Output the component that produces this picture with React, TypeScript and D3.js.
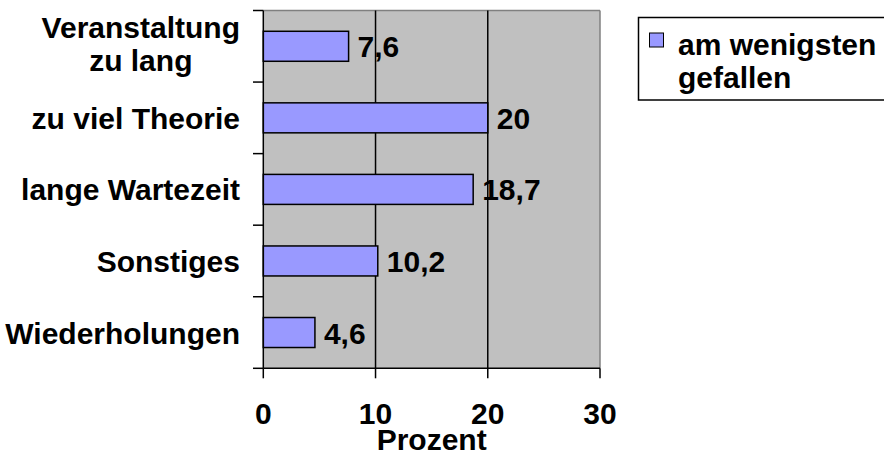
import React from "react";
import * as d3 from "d3";

const categories: string[][] = [
  ["Veranstaltung", "zu lang"],
  ["zu viel Theorie"],
  ["lange Wartezeit"],
  ["Sonstiges"],
  ["Wiederholungen"],
];
const values: number[] = [7.6, 20, 18.7, 10.2, 4.6];
const valueLabels: string[] = ["7,6", "20", "18,7", "10,2", "4,6"];
const xTicks: number[] = [0, 10, 20, 30];
const seriesName: string[] = ["am wenigsten", "gefallen"];
const axisTitle = "Prozent";

const W = 884;
const H = 455;
const FONT = "'Liberation Sans', Arial, sans-serif";
const FILL = "#9999FF";

function measure(text: string, size: number): number {
  if (typeof document === "undefined") return text.length * size * 0.55;
  const c = document.createElement("canvas");
  const ctx = c.getContext("2d");
  if (!ctx) return text.length * size * 0.55;
  ctx.font = `bold ${size}px ${FONT}`;
  return ctx.measureText(text).width;
}

export default function App() {
  const left = 263.3;
  const right = 600;
  const top = 10.5;
  const bottom = 368.3;

  const x = d3.scaleLinear().domain([0, 30]).range([left, right]);
  const y = d3
    .scaleBand<number>()
    .domain(d3.range(categories.length))
    .range([top, bottom])
    .paddingInner(0)
    .paddingOuter(0);
  const band = y.bandwidth();
  const barH = 30;
  const labelRight = 240;
  const catSize = 30;

  const boundaries = d3.range(categories.length + 1).map((i) => top + i * band);

  return (
    <svg
      width={W}
      height={H}
      style={{ position: "absolute", left: 0, top: 0, display: "block", background: "#fff" }}
      fontFamily={FONT}
      fontWeight="bold"
    >
      {/* plot background */}
      <rect x={left} y={top} width={right - left} height={bottom - top} fill="#C0C0C0" />
      <line x1={left} x2={right} y1={top} y2={top} stroke="#808080" strokeWidth={1.5} />
      <line x1={right} x2={right} y1={top} y2={bottom} stroke="#808080" strokeWidth={1.5} />
      {/* gridlines */}
      {xTicks
        .filter((t) => t > 0 && t < 30)
        .map((t) => (
          <line key={"g" + t} x1={x(t)} x2={x(t)} y1={top} y2={bottom} stroke="#000" strokeWidth={1.5} />
        ))}
      {/* bars */}
      {values.map((v, i) => {
        const cy = (y(i) as number) + band / 2;
        return (
          <g key={"b" + i}>
            <rect
              x={x(0)}
              y={cy - barH / 2}
              width={x(v) - x(0)}
              height={barH}
              fill={FILL}
              stroke="#000"
              strokeWidth={1.5}
            />
            <text x={x(v) + 9} y={cy + 11} fontSize={30} fill="#000">
              {valueLabels[i]}
            </text>
          </g>
        );
      })}
      {/* axes */}
      <line x1={left} x2={left} y1={top} y2={bottom} stroke="#000" strokeWidth={1.5} />
      <line x1={left} x2={right} y1={bottom} y2={bottom} stroke="#000" strokeWidth={1.5} />
      {boundaries.map((b, i) => (
        <line key={"yt" + i} x1={253} x2={left} y1={b} y2={b} stroke="#000" strokeWidth={1.5} />
      ))}
      {xTicks.map((t) => (
        <g key={"xt" + t}>
          <line x1={x(t)} x2={x(t)} y1={bottom} y2={bottom + 10} stroke="#000" strokeWidth={1.5} />
          <text x={x(t)} y={424} fontSize={30} textAnchor="middle" fill="#000">
            {t}
          </text>
        </g>
      ))}
      <text x={(left + right) / 2} y={450} fontSize={30} textAnchor="middle" fill="#000">
        {axisTitle}
      </text>
      {/* category labels */}
      {categories.map((lines, i) => {
        const cy = (y(i) as number) + band / 2;
        const blockW = Math.max(...lines.map((l) => measure(l, catSize)));
        const cx = labelRight - blockW / 2;
        const lh = 33;
        const first = cy + 11 - ((lines.length - 1) * lh) / 2 - (lines.length > 1 ? 3 : 0);
        return (
          <text key={"c" + i} fontSize={catSize} textAnchor="middle" fill="#000">
            {lines.map((l, j) => (
              <tspan key={j} x={cx} y={first + j * lh}>
                {l}
              </tspan>
            ))}
          </text>
        );
      })}
      {/* legend */}
      <rect x={638.5} y={17.5} width={260} height={82.5} fill="#fff" stroke="#000" strokeWidth={1.5} />
      <rect x={649.5} y={33} width={14} height={14} fill={FILL} stroke="#000" strokeWidth={1} />
      <text fontSize={30} fill="#000">
        {seriesName.map((s, j) => (
          <tspan key={j} x={678} y={55 + j * 33}>
            {s}
          </tspan>
        ))}
      </text>
    </svg>
  );
}
